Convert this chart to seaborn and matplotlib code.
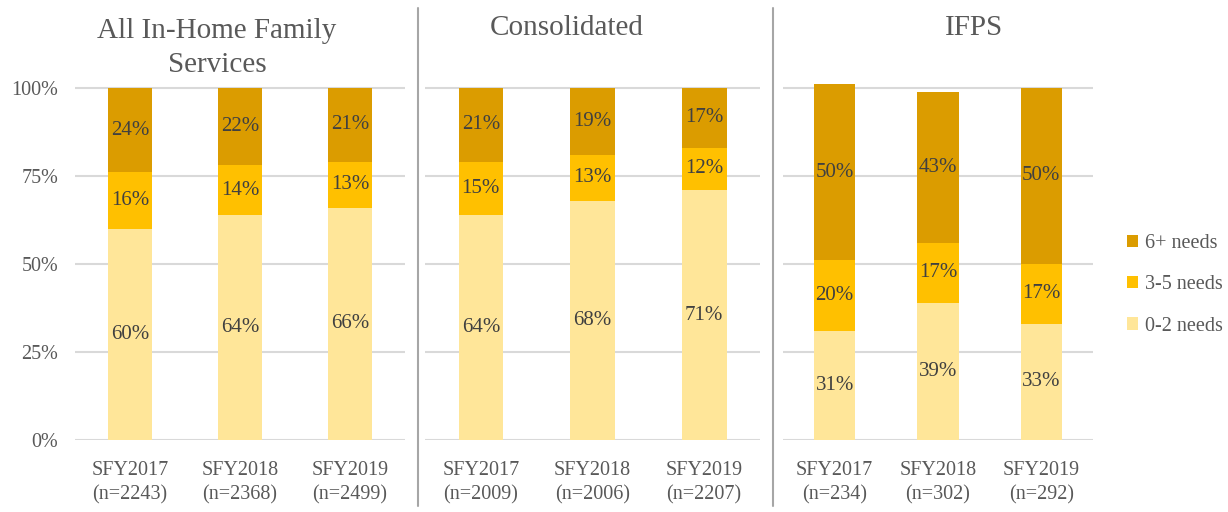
import matplotlib
matplotlib.use("Agg")
import matplotlib.pyplot as plt
import seaborn as sns
import pandas as pd
import numpy as np
from matplotlib.patches import Patch
from matplotlib.lines import Line2D

sns.set_theme(style="white")
plt.rcParams['font.family'] = ['Liberation Serif', 'DejaVu Serif']

panels = ["All In-Home Family\nServices", "Consolidated", "IFPS"]
years = ["SFY2017", "SFY2018", "SFY2019"]
n_all = [2243, 2368, 2499]
n_cons = [2009, 2006, 2207]
n_ifps = [234, 302, 292]

low_all = [60, 64, 66]
mid_all = [16, 14, 13]
high_all = [24, 22, 21]

low_cons = [64, 68, 71]
mid_cons = [15, 13, 12]
high_cons = [21, 19, 17]

low_ifps = [31, 39, 33]
mid_ifps = [20, 17, 17]
high_ifps = [50, 43, 50]

series_names = ["0-2 needs", "3-5 needs", "6+ needs"]
colors = {"0-2 needs": "#FFE699", "3-5 needs": "#FFC000", "6+ needs": "#DB9C00"}
TXT = "#404040"
GRAY = "#595959"

W, H = 1228, 512
fig = plt.figure(figsize=(W / 100, H / 100), dpi=100)

def fx(px):
    return px / W

def fy(py):
    return 1 - py / H

y0_px, y100_px = 440, 88
ymax = 1.02
top_px = y0_px - (y0_px - y100_px) * ymax

layout = [(75, 405), (425, 760), (783, 1093)]
data = [
    (n_all, low_all, mid_all, high_all),
    (n_cons, low_cons, mid_cons, high_cons),
    (n_ifps, low_ifps, mid_ifps, high_ifps),
]
title_x = [217, 567, 974]
title_y = [48, 28, 28]

for i, ((xl, xr), (ns, lo, mi, hi), title) in enumerate(zip(layout, data, panels)):
    ax = fig.add_axes([fx(xl), fy(y0_px), fx(xr - xl), (y0_px - top_px) / H])
    labels = [f"{y}\n(n={n})" for y, n in zip(years, ns)]
    lo_a = np.array(lo) / 100
    mi_a = np.array(mi) / 100
    hi_a = np.array(hi) / 100
    df = pd.DataFrame({"cat": labels,
                       "c3": lo_a + mi_a + hi_a,
                       "c2": lo_a + mi_a,
                       "c1": lo_a})
    for col, name in [("c3", "6+ needs"), ("c2", "3-5 needs"), ("c1", "0-2 needs")]:
        sns.barplot(data=df, x="cat", y=col, color=colors[name], width=0.4,
                    saturation=1, ax=ax, zorder=3, linewidth=0)
    for j in range(3):
        bottoms = [0, lo_a[j], lo_a[j] + mi_a[j]]
        vals = [lo_a[j], mi_a[j], hi_a[j]]
        raw = [lo[j], mi[j], hi[j]]
        for b, v, r in zip(bottoms, vals, raw):
            ax.text(j, b + v / 2, f"{r}%", ha="center", va="center",
                    fontsize=15, color=TXT, zorder=5)
    ax.set_xlim(-0.5, 2.5)
    ax.set_ylim(0, ymax)
    ax.set_yticks([0, 0.25, 0.5, 0.75, 1.0])
    ax.yaxis.grid(True, color="#D9D9D9", linewidth=1.5, zorder=0)
    ax.set_axisbelow(True)
    for s in ax.spines.values():
        s.set_visible(False)
    ax.set_xlabel("")
    ax.set_ylabel("")
    ax.tick_params(axis="both", length=0, labelsize=14.5, colors=GRAY)
    ax.tick_params(axis="x", pad=15)
    ax.tick_params(axis="y", pad=12)
    for t in ax.get_xticklabels():
        t.set_linespacing(1.4)
    if i == 0:
        ax.set_yticklabels(["0%", "25%", "50%", "75%", "100%"])
    else:
        ax.set_yticklabels([])
    fig.text(fx(title_x[i]), fy(title_y[i]), title, ha="center", va="center",
             fontsize=21, color=GRAY, linespacing=1.35)

for sx in [418, 773]:
    fig.add_artist(Line2D([fx(sx), fx(sx)], [fy(8), fy(506)], color="#A6A6A6", linewidth=1.5))

handles = [Patch(facecolor=colors[n], edgecolor="none", label=n) for n in ["6+ needs", "3-5 needs", "0-2 needs"]]
leg = fig.legend(handles=handles, loc="center left", bbox_to_anchor=(fx(1117), fy(285)),
                 frameon=False, fontsize=14.5, handlelength=0.55, handleheight=0.55,
                 handletextpad=0.35, labelspacing=1.1, borderpad=0)
for t in leg.get_texts():
    t.set_color(GRAY)

fig.savefig("out.png", dpi=100)
